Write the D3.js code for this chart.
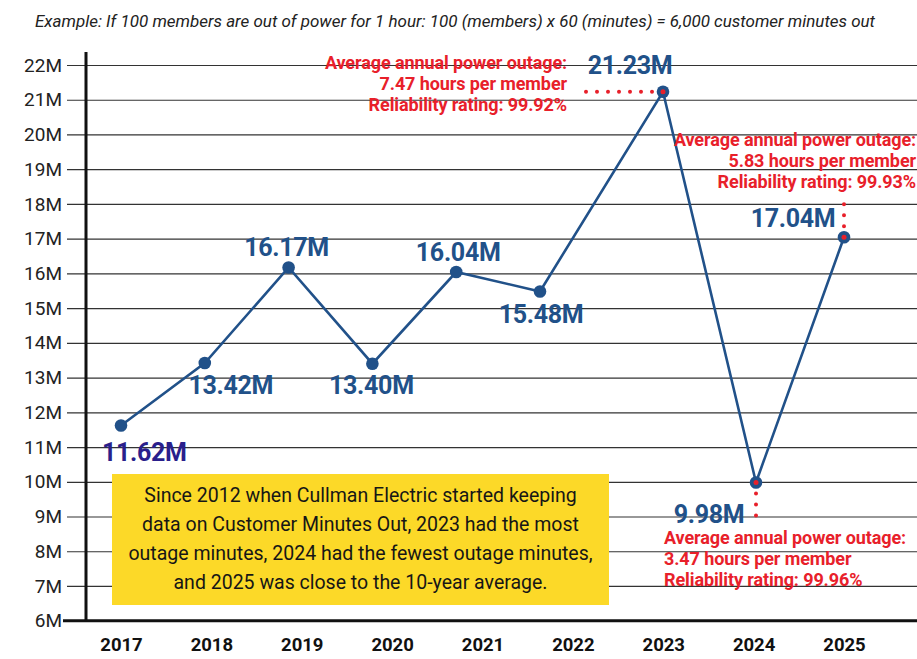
<!DOCTYPE html>
<html>
<head>
<meta charset="utf-8">
<script src="https://cdn.jsdelivr.net/npm/d3@7"></script>
<style>
  body { margin: 0; background: #fff; }
  svg { display: block; font-family: Roboto, "Noto Sans", sans-serif; }
</style>
</head>
<body>
<div id="chart"></div>
<script>
// data
const years = [2017, 2018, 2019, 2020, 2021, 2022, 2023, 2024, 2025];
const minutesOut = [11.62, 13.42, 16.17, 13.40, 16.04, 15.48, 21.23, 9.98, 17.04];
const yTicks = [6, 7, 8, 9, 10, 11, 12, 13, 14, 15, 16, 17, 18, 19, 20, 21, 22];
const titleText = "Example: If 100 members are out of power for 1 hour: 100 (members) x 60 (minutes) = 6,000 customer minutes out";
const note2023 = ["Average annual power outage:", "7.47 hours per member", "Reliability rating: 99.92%"];
const note2024 = ["Average annual power outage:", "3.47 hours per member", "Reliability rating: 99.96%"];
const note2025 = ["Average annual power outage:", "5.83 hours per member", "Reliability rating: 99.93%"];
const boxLines = [
  "Since 2012 when Cullman Electric started keeping",
  "data on Customer Minutes Out, 2023 had the most",
  "outage minutes, 2024 had the fewest outage minutes,",
  "and 2025 was close to the 10-year average."
];

// layout
const W = 917, H = 659;
const blue = "#215189", red = "#e8202a";
// label placement relative to each point: [dx, dy, anchor]
const labelPos = [[-19, 35, "start"], [26, 31, "middle"], [-2, -11, "middle"], [-1, 30, "middle"],
  [2, -11, "middle"], [1, 32, "middle"], [-33, -18, "middle"], [-47, 41, "middle"], [-51, -10, "middle"]];

const svg = d3.select("#chart").append("svg")
  .attr("width", W).attr("height", H);

const y = d3.scaleLinear().domain([6, 22]).range([620.7, 65]);
// year labels are evenly spaced, the plotted points are not (as in the original)
const xLab = d3.scalePoint().domain(years).range([121, 844]);
const x = d3.scaleLinear().domain([2017, 2022, 2023, 2024, 2025]).range([121, 540, 663, 756, 844]);

// title
svg.append("text")
  .attr("x", 35).attr("y", 27)
  .attr("font-size", 16).attr("font-style", "italic").attr("fill", "#222")
  .attr("textLength", 840).attr("lengthAdjust", "spacingAndGlyphs")
  .text(titleText);

// gridlines + y labels
const yAxis = d3.axisLeft(y).tickValues(yTicks).tickFormat(d => d + "M").tickSize(-(W - 67)).tickPadding(5);
const gy = svg.append("g").attr("transform", "translate(67,0)").call(yAxis);
gy.select(".domain").remove();
gy.selectAll(".tick line").attr("stroke", "#333").attr("stroke-width", 1.2);
gy.selectAll(".tick text").attr("font-size", 19).attr("fill", "#222").attr("font-family", "Roboto");
gy.selectAll(".tick").filter(d => d === 6).select("line").remove();

// axes lines
svg.append("line").attr("x1", 86).attr("x2", 86).attr("y1", 52).attr("y2", y(6))
  .attr("stroke", "#111").attr("stroke-width", 3);
svg.append("line").attr("x1", 63).attr("x2", W).attr("y1", y(6)).attr("y2", y(6))
  .attr("stroke", "#111").attr("stroke-width", 3);

// year labels
const xAxis = d3.axisBottom(xLab).tickSize(0).tickPadding(0);
const gx = svg.append("g").attr("transform", "translate(0,638)").call(xAxis);
gx.select(".domain").remove();
gx.selectAll(".tick text").attr("font-size", 18.5).attr("font-weight", 700)
  .attr("fill", "#111").attr("font-family", "Roboto");

// yellow note box
svg.append("rect").attr("x", 112).attr("y", 474).attr("width", 497).attr("height", 131)
  .attr("fill", "#fcd928");
svg.append("g").selectAll("text").data(boxLines).join("text")
  .attr("x", 360.5).attr("y", (d, i) => 502 + i * 29)
  .attr("text-anchor", "middle").attr("font-size", 19.5).attr("fill", "#161616")
  .text(d => d);

// dotted leaders
const pts = years.map((yr, i) => ({ year: yr, v: minutesOut[i], px: x(yr), py: y(minutesOut[i]) }));
const p23 = pts[6], p24 = pts[7], p25 = pts[8];
const dotted = (x1, y1, x2, y2) => svg.append("line")
  .attr("x1", x1).attr("y1", y1).attr("x2", x2).attr("y2", y2)
  .attr("stroke", red).attr("stroke-width", 4).attr("stroke-linecap", "round")
  .attr("stroke-dasharray", "0 11");

// line
svg.append("path").datum(pts)
  .attr("fill", "none").attr("stroke", blue).attr("stroke-width", 2.6)
  .attr("d", d3.line().x(d => d.px).y(d => d.py));

dotted(p23.px, p23.py, p23.px - 88, p23.py);
dotted(p24.px, p24.py, p24.px, p24.py + 40);
dotted(p25.px, p25.py, p25.px, p25.py - 36);

svg.append("g").selectAll("circle").data(pts).join("circle")
  .attr("cx", d => d.px).attr("cy", d => d.py).attr("r", 6.3).attr("fill", blue);
svg.append("g").selectAll("circle").data([p23, p24, p25]).join("circle")
  .attr("cx", d => d.px).attr("cy", d => d.py).attr("r", 2.5).attr("fill", red);

// value labels
svg.append("g").selectAll("text").data(pts).join("text")
  .attr("x", (d, i) => d.px + labelPos[i][0])
  .attr("y", (d, i) => d.py + labelPos[i][1])
  .attr("text-anchor", (d, i) => labelPos[i][2])
  .attr("font-size", 25).attr("font-weight", 700).attr("letter-spacing", -0.3)
  .attr("fill", (d, i) => i === 0 ? "#2a1f8c" : blue)
  .text(d => d3.format(".2f")(d.v) + "M");

// red annotations
function note(lines, ax, ay, anchor) {
  svg.append("g").selectAll("text").data(lines).join("text")
    .attr("x", ax).attr("y", (d, i) => ay + i * 21)
    .attr("text-anchor", anchor)
    .attr("font-size", 18).attr("font-weight", 700).attr("letter-spacing", -0.1)
    .attr("fill", red)
    .text(d => d);
}
note(note2023, p23.px - 96, p23.py - 23, "end");
note(note2025, p25.px + 72, p25.py - 91, "end");
note(note2024, p24.px - 92, p24.py + 62, "start");
</script>
</body>
</html>
